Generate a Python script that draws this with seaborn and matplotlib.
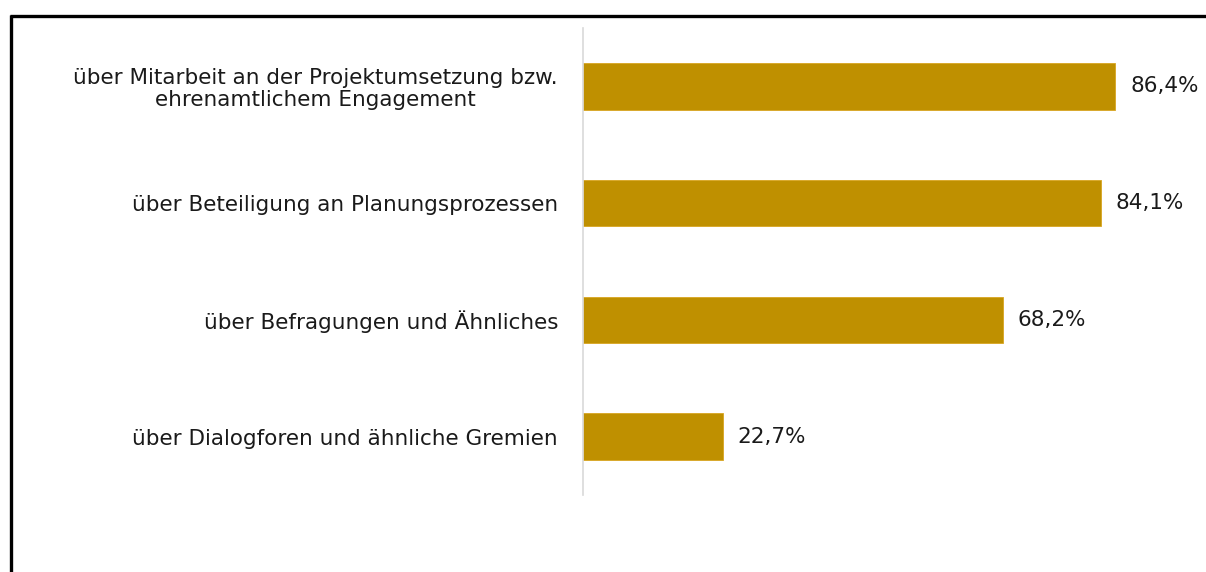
import matplotlib
matplotlib.use("Agg")
import matplotlib.pyplot as plt
import seaborn as sns
import pandas as pd
from matplotlib.lines import Line2D

categories = [
    "über Mitarbeit an der Projektumsetzung bzw.\nehrenamtlichem Engagement",
    "über Beteiligung an Planungsprozessen",
    "über Befragungen und Ähnliches",
    "über Dialogforen und ähnliche Gremien",
]
values = [86.4, 84.1, 68.2, 22.7]
value_labels = ["86,4%", "84,1%", "68,2%", "22,7%"]

sns.set_theme(style="white")
plt.rcParams["font.family"] = ["DejaVu Sans"]

W, H = 1206, 572
fig = plt.figure(figsize=(W / 100, H / 100), dpi=100)
left, right, top, bottom = 583, 1199, 28, 495
ax = fig.add_axes([left / W, 1 - bottom / H, (right - left) / W, (bottom - top) / H])

df = pd.DataFrame({"cat": categories, "val": values})
sns.barplot(data=df, y="cat", x="val", color="#BF9000", saturation=1,
            width=0.4, orient="h", ax=ax, edgecolor="#D9A520", linewidth=0.6)

ax.set_xlim(0, 100)
ax.set_ylim(3.5, -0.5)
ax.set_xlabel("")
ax.set_ylabel("")
ax.set_xticks([])
for s in ["top", "right", "bottom"]:
    ax.spines[s].set_visible(False)
ax.spines["left"].set_color("#D9D9D9")
ax.spines["left"].set_linewidth(1.2)
ax.tick_params(axis="y", length=0, pad=18, labelsize=15.5, labelcolor="#1a1a1a")
for t in ax.get_yticklabels():
    t.set_horizontalalignment("right")
    t.set_multialignment("center")
    t.set_linespacing(1.12)

for i, (v, lab) in enumerate(zip(values, value_labels)):
    ax.text(v + 2.4, i, lab, va="center", ha="left", fontsize=15.5, color="#1a1a1a")

# frame lines (top and left)
fig.add_artist(Line2D([10 / W, 1], [1 - 16 / H, 1 - 16 / H], color="black", linewidth=2.4,
                      solid_capstyle="butt", transform=fig.transFigure))
fig.add_artist(Line2D([11 / W, 11 / W], [1 - 15 / H, 0], color="black", linewidth=2.4,
                      solid_capstyle="butt", transform=fig.transFigure))

fig.savefig("out.png", dpi=100, facecolor="white")
